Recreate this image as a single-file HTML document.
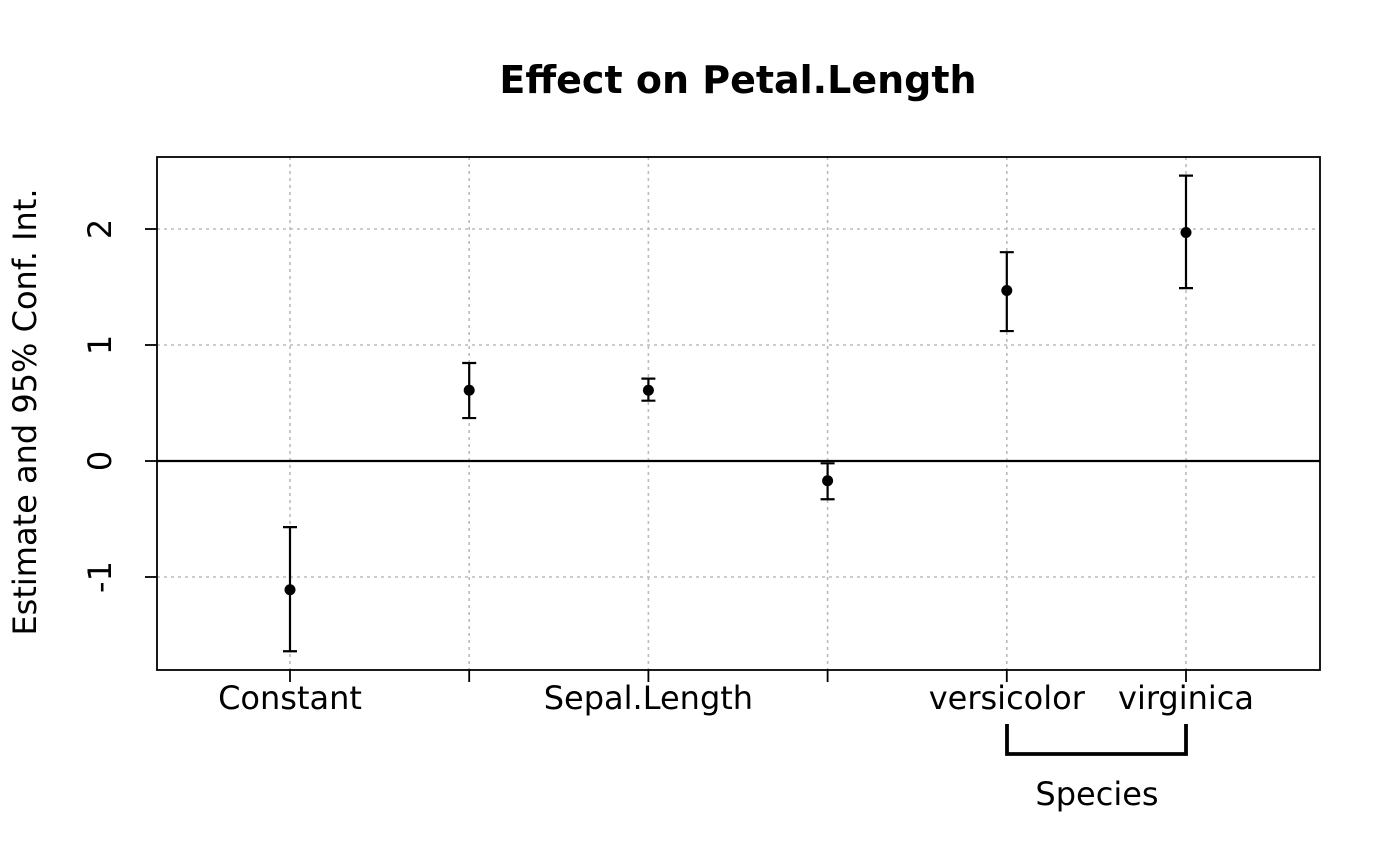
<!DOCTYPE html>
<html><head><meta charset="utf-8"><style>
html,body{margin:0;padding:0;background:#fff;}
svg{display:block;font-family:"DejaVu Sans","Liberation Sans",sans-serif;}
</style></head><body>
<svg id="chart" width="1400" height="866" viewBox="0 0 1400 866">
<text x="738" y="93" text-anchor="middle" font-size="38" font-weight="bold">Effect on Petal.Length</text>
<g id="grid"></g>
<g id="marks"></g>
<rect x="157" y="157" width="1163" height="513" fill="none" stroke="#000" stroke-width="1.8"/>
<g id="axes"></g>
<text transform="translate(36,412) rotate(-90)" text-anchor="middle" font-size="32">Estimate and 95% Conf. Int.</text>
<path d="M1007,724 V754 H1186 V724" fill="none" stroke="#000" stroke-width="3.8"/>
<text x="1097" y="805" text-anchor="middle" font-size="32">Species</text>
</svg>
<script>
const categories = ["Constant", "", "Sepal.Length", "", "versicolor", "virginica"];
const estimates = [-1.11, 0.61, 0.61, -0.17, 1.47, 1.97];
const lowerCI = [-1.64, 0.37, 0.52, -0.33, 1.12, 1.49];
const upperCI = [-0.57, 0.845, 0.71, -0.02, 1.80, 2.46];
const yTicks = [-1, 0, 1, 2];
const yTickLabels = ["-1", "0", "1", "2"];

const NS = "http://www.w3.org/2000/svg";
const xScale = i => 290 + i * 179.2;
const yScale = v => 461 - v * 116;
function mk(tag, attrs, parent) {
  const e = document.createElementNS(NS, tag);
  for (const k in attrs) e.setAttribute(k, attrs[k]);
  parent.appendChild(e);
  return e;
}
const grid = document.getElementById('grid');
const marks = document.getElementById('marks');
const axes = document.getElementById('axes');

yTicks.forEach((t, i) => {
  const y = yScale(t);
  const g = mk('line', {x1: 157, x2: 1320, y1: y, y2: y, stroke: '#bbb', 'stroke-width': 1.6, 'stroke-dasharray': '3,4'}, grid);
  
  
  const tk = mk('line', {x1: 145, x2: 157, y1: y, y2: y, stroke: '#000', 'stroke-width': 1.8}, axes);
  
  
  const lb = mk('text', {transform: `translate(111,${y}) rotate(-90)`, 'text-anchor': 'middle', 'font-size': 32}, axes);
  lb.textContent = yTickLabels[i];
  
  
});
const zl = mk('line', {x1: 157, x2: 1320, y1: yScale(0), y2: yScale(0), stroke: '#000', 'stroke-width': 2.2}, marks);



categories.forEach((c, i) => {
  const x = xScale(i);
  const g = mk('line', {x1: x, x2: x, y1: 157, y2: 670, stroke: '#bbb', 'stroke-width': 1.6, 'stroke-dasharray': '3,4'}, grid);
  
  
  const tk = mk('line', {x1: x, x2: x, y1: 670, y2: 682, stroke: '#000', 'stroke-width': 1.8}, axes);
  
  
  const lb = mk('text', {x: x, y: 709, 'text-anchor': 'middle', 'font-size': 32}, axes);
  lb.textContent = c;
  
  

  const yl = yScale(lowerCI[i]), yu = yScale(upperCI[i]);
  const eb = mk('path', {d: `M${x},${yl}V${yu}M${x-7},${yl}H${x+7}M${x-7},${yu}H${x+7}`, stroke: '#000', 'stroke-width': 2.2, fill: 'none'}, marks);
  
  
  const pt = mk('circle', {cx: x, cy: yScale(estimates[i]), r: 5.5, fill: '#000'}, marks);
  
  
});
</script>
</body></html>
